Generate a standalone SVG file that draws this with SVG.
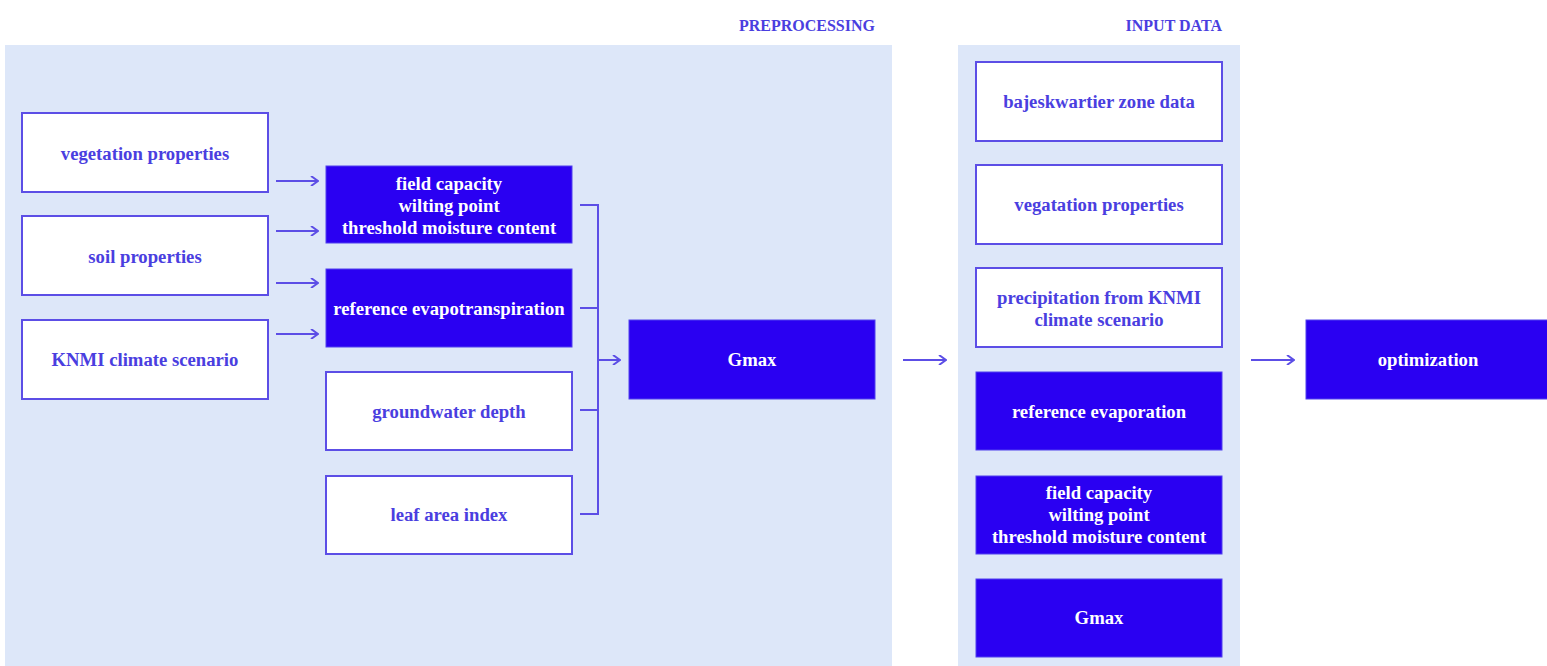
<svg xmlns="http://www.w3.org/2000/svg" width="1547" height="666" viewBox="0 0 1547 666">
<style>
.panel{fill:#dde7f9}
.w{fill:#ffffff;stroke:#5c4ee6;stroke-width:2}
.d{fill:#2a00f2;stroke:#5040ee;stroke-width:1}
.t{font-family:"Liberation Serif",serif;font-size:18.7px;font-weight:bold;text-anchor:middle}
.tw{fill:#4a3ee0}
.td{fill:#ffffff}
.title{font-family:"Liberation Serif",serif;font-size:16px;font-weight:bold;fill:#4a3ee0;text-anchor:end}
.c{fill:none;stroke:#5c4ee6;stroke-width:2}
</style>
<defs>
<marker id="ah" viewBox="0 0 10 10" refX="9" refY="5" markerWidth="10" markerHeight="10" markerUnits="userSpaceOnUse" orient="auto">
<path d="M2,0 L9,5 L2,10" fill="none" stroke="#5c4ee6" stroke-width="2"/>
</marker>
</defs>
<rect width="1547" height="666" fill="#ffffff"/>
<g id="panel-preprocessing">
<rect class="panel" x="5" y="45" width="887" height="621"/>
<text class="title" x="875" y="31">PREPROCESSING</text>
</g>
<g id="panel-input">
<rect class="panel" x="958" y="45" width="282" height="621"/>
<text class="title" x="1222" y="31">INPUT DATA</text>
</g>
<g id="n-veg"><rect class="w" x="22" y="113" width="246" height="79"/><text class="t tw" x="145" y="160">vegetation properties</text></g>
<g id="n-soil"><rect class="w" x="22" y="216" width="246" height="79"/><text class="t tw" x="145" y="263">soil properties</text></g>
<g id="n-knmi"><rect class="w" x="22" y="320" width="246" height="79"/><text class="t tw" x="145" y="366">KNMI climate scenario</text></g>
<g id="n-fc"><rect class="d" x="326" y="166" width="246" height="77"/><text class="t td" x="449" y="190">field capacity</text><text class="t td" x="449" y="212">wilting point</text><text class="t td" x="449" y="234">threshold moisture content</text></g>
<g id="n-ref"><rect class="d" x="326" y="269" width="246" height="78"/><text class="t td" x="449" y="315">reference evapotranspiration</text></g>
<g id="n-gw"><rect class="w" x="326" y="372" width="246" height="78"/><text class="t tw" x="449" y="418">groundwater depth</text></g>
<g id="n-lai"><rect class="w" x="326" y="476" width="246" height="78"/><text class="t tw" x="449" y="521">leaf area index</text></g>
<g id="n-gmax"><rect class="d" x="629" y="320" width="246" height="79"/><text class="t td" x="752" y="366">Gmax</text></g>
<g id="n-baj"><rect class="w" x="976" y="62" width="246" height="79"/><text class="t tw" x="1099" y="108">bajeskwartier zone data</text></g>
<g id="n-veg2"><rect class="w" x="976" y="165" width="246" height="79"/><text class="t tw" x="1099" y="211">vegatation properties</text></g>
<g id="n-prec"><rect class="w" x="976" y="268" width="246" height="79"/><text class="t tw" x="1099" y="304">precipitation from KNMI</text><text class="t tw" x="1099" y="326">climate scenario</text></g>
<g id="n-refev"><rect class="d" x="976" y="372" width="246" height="78"/><text class="t td" x="1099" y="418">reference evaporation</text></g>
<g id="n-fc2"><rect class="d" x="976" y="476" width="246" height="78"/><text class="t td" x="1099" y="499">field capacity</text><text class="t td" x="1099" y="521">wilting point</text><text class="t td" x="1099" y="543">threshold moisture content</text></g>
<g id="n-gmax2"><rect class="d" x="976" y="579" width="246" height="78"/><text class="t td" x="1099" y="624">Gmax</text></g>
<g id="n-opt"><rect class="d" x="1306" y="320" width="245" height="79"/><text class="t td" x="1428" y="366">optimization</text></g>
<g id="connectors">
<line class="c" x1="276" y1="181" x2="318" y2="181" marker-end="url(#ah)"/>
<line class="c" x1="276" y1="231" x2="318" y2="231" marker-end="url(#ah)"/>
<line class="c" x1="276" y1="283" x2="318" y2="283" marker-end="url(#ah)"/>
<line class="c" x1="276" y1="334" x2="318" y2="334" marker-end="url(#ah)"/>
<path class="c" d="M580,205 H598 V514 H580 M580,308 H598 M580,410 H598"/>
<line class="c" x1="598" y1="360" x2="620" y2="360" marker-end="url(#ah)"/>
<line class="c" x1="903" y1="360" x2="946" y2="360" marker-end="url(#ah)"/>
<line class="c" x1="1251" y1="360" x2="1294" y2="360" marker-end="url(#ah)"/>
</g>
</svg>
